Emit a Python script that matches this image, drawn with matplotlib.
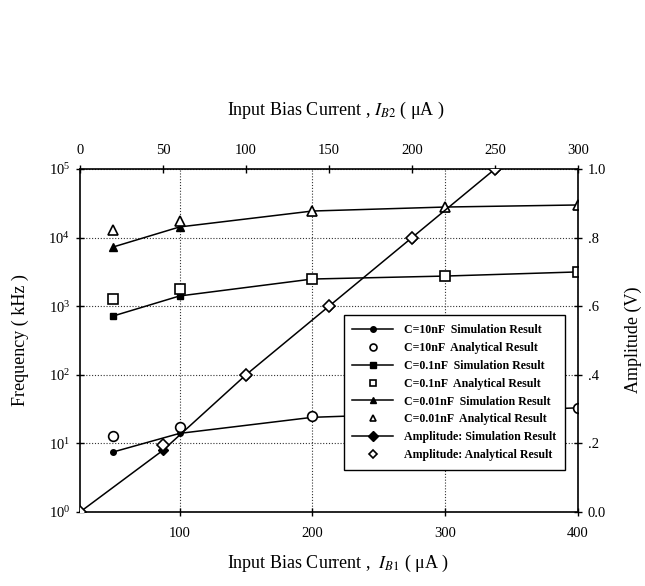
import matplotlib
matplotlib.use("Agg")
import matplotlib.pyplot as plt
from matplotlib.lines import Line2D
from matplotlib.ticker import FixedLocator, NullLocator, LogFormatterMathtext

plt.rcParams['font.family'] = ['Liberation Serif', 'DejaVu Serif']
plt.rcParams['mathtext.fontset'] = 'stix'

# ---------------- data ----------------
ib1 = [50, 100, 200, 300, 400]              # bottom axis, uA
c10_sim = [7.5, 14, 24, 28, 33]             # kHz
c10_ana = [12.8, 17.4, 25, 28, 33]
c01_sim = [720, 1410, 2490, 2750, 3160]
c01_ana = [1270, 1780, 2500, 2750, 3160]
c001_sim = [7300, 14300, 24400, 27900, 29900]
c001_ana = [12900, 17500, 24400, 27900, 29900]

ib2 = [0, 50, 100, 150, 200, 250]           # top axis, uA
amp_sim = [0.0, 0.18, 0.40, 0.60, 0.80, 1.00]
amp_ana = [0.0, 0.195, 0.40, 0.60, 0.80, 1.00]

bottom_ticks = [100, 200, 300, 400]
top_ticks = [0, 50, 100, 150, 200, 250, 300]
right_ticks = [0.0, 0.2, 0.4, 0.6, 0.8, 1.0]
right_labels = ['0.0', '.2', '.4', '.6', '.8', '1.0']
left_ticks = [1e0, 1e1, 1e2, 1e3, 1e4, 1e5]

labels = ["C=10nF  Simulation Result", "C=10nF  Analytical Result",
          "C=0.1nF  Simulation Result", "C=0.1nF  Analytical Result",
          "C=0.01nF  Simulation Result", "C=0.01nF  Analytical Result",
          "Amplitude: Simulation Result", "Amplitude: Analytical Result"]

# ---------------- figure ----------------
fig = plt.figure(figsize=(6.45, 5.86), dpi=100)
pos = [80/645, 1-512/586, 498/645, 343/586]
ax = fig.add_axes(pos)
amp = fig.add_axes(pos)
amp.patch.set_visible(False)

lw = 1.1
k = 'black'

ax.set_yscale('log')
ax.set_xlim(25, 400)
ax.set_ylim(1, 1e5)

sim_kw = dict(color=k, lw=lw, mfc=k, mec=k)
ana_kw = dict(ls='none', mfc='white', mec=k, mew=1.2)
ax.plot(ib1, c10_sim, marker='o', ms=4, **sim_kw)
ax.plot(ib1, c10_ana, marker='o', ms=7, **ana_kw)
ax.plot(ib1, c01_sim, marker='s', ms=5, **sim_kw)
ax.plot(ib1, c01_ana, marker='s', ms=7, **ana_kw)
ax.plot(ib1, c001_sim, marker='^', ms=5.5, **sim_kw)
ax.plot(ib1, c001_ana, marker='^', ms=7.5, **ana_kw)

amp.set_xlim(0, 300)
amp.set_ylim(0, 1.0)
amp.plot(ib2, amp_sim, marker='D', ms=5.5, **sim_kw)
amp.plot(ib2, amp_ana, marker='D', ms=6, **ana_kw)

# grid
grid_kw = dict(color='#333333', lw=0.8, ls=(0, (1, 1.6)))
ax.xaxis.set_major_locator(FixedLocator(bottom_ticks))
ax.yaxis.set_major_locator(FixedLocator(left_ticks))
ax.yaxis.set_minor_locator(NullLocator())
ax.yaxis.set_major_formatter(LogFormatterMathtext())
ax.grid(True, **grid_kw)

ax.tick_params(axis='both', which='major', direction='inout', length=6,
               width=1, labelsize=10.5, color=k)
ax.tick_params(axis='x', pad=8)
ax.tick_params(axis='y', pad=4)
ax.tick_params(top=False, right=False)

amp.xaxis.tick_top()
amp.yaxis.tick_right()
amp.set_xticks(top_ticks)
amp.set_yticks(right_ticks)
amp.set_yticklabels(right_labels)
amp.tick_params(axis='both', direction='inout', length=6, width=1,
                labelsize=10.5, color=k)
amp.tick_params(axis='x', pad=6)
amp.tick_params(axis='y', pad=4)
for s in amp.spines.values():
    s.set_visible(False)
for s in ax.spines.values():
    s.set_linewidth(1.2)

# legend
handles = [
    Line2D([], [], marker='o', ms=4, **sim_kw),
    Line2D([], [], marker='o', ms=5, **ana_kw),
    Line2D([], [], marker='s', ms=5, **sim_kw),
    Line2D([], [], marker='s', ms=5, **ana_kw),
    Line2D([], [], marker='^', ms=5, **sim_kw),
    Line2D([], [], marker='^', ms=5, **ana_kw),
    Line2D([], [], marker='D', ms=5.5, **sim_kw),
    Line2D([], [], marker='D', ms=4.5, **ana_kw),
]
leg = amp.legend(handles, labels, loc='lower right',
                 bbox_to_anchor=(0.974, 0.122), frameon=True, fancybox=False,
                 framealpha=1, facecolor='white', edgecolor=k,
                 prop=dict(family='Liberation Serif', size=8.6, weight='bold'),
                 handlelength=3.4, handletextpad=0.9, labelspacing=0.49,
                 borderpad=0.75, borderaxespad=0)
leg.get_frame().set_linewidth(1.0)
leg.set_zorder(10)

# axis titles
fig.text(338/645, 1-563/586, r"Input Bias Current ,  $I_{B1}$ ( μA )",
         ha='center', va='center', fontsize=13)
fig.text(336/645, 1-110/586, r"Input Bias Current , $I_{B2}$ ( μA )",
         ha='center', va='center', fontsize=13)
fig.text(20/645, 1-340/586, "Frequency ( kHz )", rotation=90,
         ha='center', va='center', fontsize=13)
fig.text(633/645, 1-340/586, "Amplitude (V)", rotation=90,
         ha='center', va='center', fontsize=13)

fig.savefig("out.png", dpi=100)
